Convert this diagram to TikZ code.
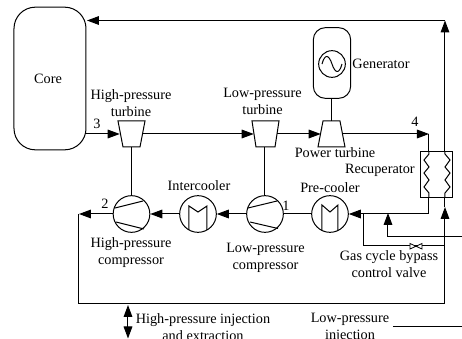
\documentclass[tikz,border=0pt]{standalone}
\usepackage{fontspec}
\setmainfont{Liberation Serif}
\usetikzlibrary{arrows.meta}
\tikzset{
 line/.style={draw=black,line width=0.75pt},
 flow/.style={line,-{Triangle[length=9pt,width=6.5pt]}},
 both/.style={line,{Triangle[length=9pt,width=6.5pt]}-{Triangle[length=9pt,width=6.5pt]}},
 lbl/.style={font=\fontsize{10.7}{12.75}\selectfont,align=center,inner sep=0pt,text=black},
 machine/.style={circle,draw=black,line width=0.75pt,minimum size=27.5pt,inner sep=0pt},
 pt/.style={inner sep=0pt,minimum size=0pt}
}
\begin{document}
\begin{tikzpicture}[x=0.75pt,y=-0.75pt]
\path[use as bounding box] (0,0) rectangle (462,339);
% Core
\node[draw=black,line width=0.75pt,rounded corners=16pt,minimum width=54pt,minimum height=107pt,inner sep=0pt] (core) at (50,78.5) {};
\node[lbl] (corel) at (48,79) {Core};
% Generator
\node[draw=black,line width=0.75pt,rounded corners=9pt,minimum width=28pt,minimum height=53pt,inner sep=0pt] (gen) at (332,63) {};
\node[draw=black,line width=0.75pt,circle,minimum size=20pt,inner sep=0pt] (gs) at (332,64) {};
\draw[line] (322,64) .. controls (325,53) and (329,55) .. (332,64) .. controls (335,73) and (339,75) .. (342,64);
\node[lbl] (genl) at (381,64) {Generator};
% Turbines
\draw[line] (118,121) -- (145,121) -- (140,147) -- (123,147) -- cycle;
\draw[line] (252,121) -- (279,121) -- (275,147) -- (256,147) -- cycle;
\draw[line] (323,121) -- (340,121) -- (345,147) -- (318,147) -- cycle;
\node[pt] (ht) at (131.5,147) {};
\node[pt] (lt) at (265,147) {};
\node[pt] (ptop) at (332,121) {};
\node[pt] (htl) at (120,134) {};
\node[pt] (htr) at (142,134) {};
\node[pt] (ltl) at (254,134) {};
\node[pt] (ltr) at (277,134) {};
\node[pt] (ptl) at (321,134) {};
\node[pt] (ptr) at (342,134) {};
% Compressors and coolers
\node[machine] (hc) at (131.5,214) {};
\node[machine] (lc) at (265,214) {};
\node[machine] (ic) at (198,214) {};
\node[machine] (pc) at (330,214) {};
\draw[line] (115,208) -- (143,201);
\draw[line] (116,222) -- (144,229);
\draw[line] (248,208) -- (277,201);
\draw[line] (250,222) -- (278,228.5);
\draw[line] (189,230) -- (189,206) -- (198,212) -- (207,206) -- (207,230);
\draw[line] (322,231) -- (322,205) -- (330,212) -- (338,205) -- (338,231);
% Recuperator
\node[draw=black,line width=0.75pt,minimum width=24pt,minimum height=34.5pt,inner sep=0pt] (rec) at (437,175) {};
\draw[line] (429,152) -- (429,154) -- (424,160) -- (429,167) -- (424,173) -- (429,180) -- (424,187) -- (429,193) -- (429,198);
\draw[line] (445,152) -- (445,154) -- (450,160) -- (445,167) -- (450,173) -- (445,180) -- (450,187) -- (445,193) -- (445,198);
% Connectors
\coordinate (recTL) at (429,152);
\coordinate (recTR) at (445,152);
\coordinate (recBL) at (429,198);
\coordinate (recBR) at (445,207);
\coordinate (a4) at (429,134);
\coordinate (topr) at (445,20.5);
\coordinate (topa) at (87,20.5);
\coordinate (rb) at (429,214);
\coordinate (junc) at (364,214);
\coordinate (vl) at (364,246);
\coordinate (vr) at (445,246);
\coordinate (bot) at (445,304);
\coordinate (bl) at (79,304);
\coordinate (ml) at (79,214);
\coordinate (ctr) at (86,134);
\coordinate (sr) at (462,237);
\coordinate (sc) at (388,237);
\coordinate (st) at (388,213);
\coordinate (lpa) at (393,327);
\coordinate (lpb) at (462,327);
\coordinate (d1) at (128,305);
\coordinate (d2) at (128,338.5);
\draw[flow] (topr) -- (topa);
\draw[flow] (recTR) -- (topr);
\draw[flow] (ctr) -- (htl);
\draw[flow] (htr) -- (ltl);
\draw[flow] (ltr) -- (ptl);
\draw[flow] (ptr) -- (a4);
\draw[line] (a4) -- (recTL);
\draw[line] (ht) -- (hc);
\draw[line] (lt) -- (lc);
\draw[line] (ptop) -- (gen);
\draw[line] (recBL) -- (rb);
\draw[flow] (rb) -- (pc);
\draw[line] (pc) -- (lc);
\draw[flow] (lc) -- (ic);
\draw[flow] (ic) -- (hc);
\draw[flow] (hc) -- (ml);
\draw[line] (ml) -- (bl) -- (bot);
\draw[flow] (bot) -- (recBR);
\draw[line] (recBR) -- (445,198);
\draw[line] (junc) -- (vl) -- (vr);
\draw[flow] (sr) -- (sc) -- (st);
\draw[line] (lpa) -- (lpb);
\draw[both] (d1) -- (d2);
% Valve
\draw[line,line width=0.6pt,fill=white] (410,243.5) -- (410,249) -- (422,243.5) -- (422,249) -- cycle;
% Labels
\node[lbl] (l1) at (131,103) {High-pressure\\turbine};
\node[lbl] (l2) at (262.5,101.5) {Low-pressure\\turbine};
\node[lbl] (l3) at (335,153) {Power turbine};
\node[lbl,anchor=east] (l4) at (415,170) {Recuperator};
\node[lbl] (l5) at (97,124) {3};
\node[lbl] (l6) at (415,122) {4};
\node[lbl] (l7) at (105,204) {2};
\node[lbl] (l8) at (286,206) {1};
\node[lbl] (l9) at (199,186) {Intercooler};
\node[lbl] (l10) at (330,188) {Pre-cooler};
\node[lbl] (l11) at (131,253) {High-pressure\\compressor};
\node[lbl] (l12) at (265.5,257.5) {Low-pressure\\compressor};
\node[lbl] (l13) at (389,264) {Gas cycle bypass\\control valve};
\node[lbl] (l14) at (203,327.5) {High-pressure injection\\and extraction};
\node[lbl] (l15) at (350,328) {Low-pressure\\injection};
\end{tikzpicture}
\end{document}
